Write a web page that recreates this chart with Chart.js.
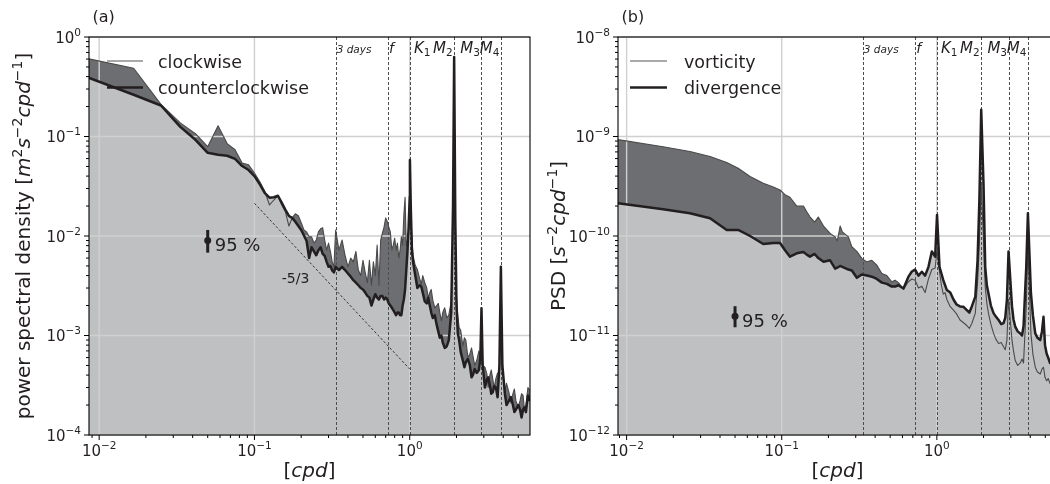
<!DOCTYPE html>
<html>
<head>
<meta charset="utf-8">
<script src="https://cdn.jsdelivr.net/npm/chart.js@4.4.1/dist/chart.umd.min.js"></script>
<style>
html, body { margin: 0; padding: 0; background: #fff; width: 1050px; height: 484px; overflow: hidden; }
#wrap { position: relative; width: 1050px; height: 484px; overflow: hidden; }
canvas { position: absolute; top: 0; }
#chartA { left: 0; }
#chartB { left: 540px; }
</style>
</head>
<body>
<div id="wrap">
  <canvas id="chartA" width="540" height="484"></canvas>
  <canvas id="chartB" width="530" height="484"></canvas>
</div>
<script>
// panel (a): rotary spectra
const freqA = [
  0.00833, 0.01667, 0.025, 0.0333, 0.04167, 0.05, 0.0583, 0.0667, 0.075, 0.0833,
  0.0917, 0.1, 0.1083, 0.1167, 0.125, 0.1333, 0.1417, 0.15, 0.1583, 0.1667,
  0.175, 0.1833, 0.1917, 0.2, 0.2083, 0.2167, 0.225, 0.2333, 0.2417, 0.25,
  0.2583, 0.2667, 0.275, 0.2833, 0.2917, 0.3, 0.3083, 0.3167, 0.325, 0.3333,
  0.35, 0.3667, 0.3833, 0.4, 0.4167, 0.4333, 0.45, 0.4667, 0.4833, 0.5,
  0.5167, 0.5333, 0.55, 0.5667, 0.5833, 0.6, 0.6167, 0.6333, 0.65, 0.6667,
  0.6833, 0.7, 0.7167, 0.7333, 0.75, 0.7667, 0.7833, 0.8, 0.8167, 0.8333,
  0.85, 0.8667, 0.8833, 0.9, 0.9167, 0.9333, 0.95, 0.9667, 0.9833, 1.0,
  1.0027, 1.0167, 1.0333, 1.05,
  1.0833, 1.12, 1.16, 1.187, 1.213, 1.25, 1.287, 1.315, 1.346, 1.376,
  1.407, 1.45, 1.493, 1.527, 1.562, 1.6, 1.632, 1.68, 1.733, 1.785,
  1.85, 1.9, 1.932, 1.965, 2.0, 2.04, 2.08, 2.13, 2.198, 2.25,
  2.297, 2.37, 2.44, 2.5, 2.55, 2.62, 2.7, 2.79, 2.85, 2.898,
  2.95, 3.05, 3.14, 3.2, 3.28, 3.35, 3.43, 3.5, 3.59, 3.68,
  3.78, 3.864, 3.95, 4.1, 4.2, 4.35, 4.48, 4.62, 4.72, 4.83,
  5.0, 5.13, 5.25, 5.37, 5.48, 5.6, 5.77, 5.94
];
const clockwise = [
  0.61, 0.485, 0.21, 0.137, 0.107, 0.079, 0.128, 0.0849, 0.0735, 0.054,
  0.052, 0.043, 0.035, 0.028, 0.0205, 0.023, 0.0254, 0.0205, 0.0175, 0.0126,
  0.0152, 0.0167, 0.016, 0.0136, 0.0115, 0.011, 0.0098, 0.0098, 0.0085, 0.0091,
  0.011, 0.0118, 0.0121, 0.0091, 0.0072, 0.0085, 0.007, 0.0055, 0.0049, 0.0115,
  0.0072, 0.0091, 0.0064, 0.0049, 0.006, 0.0055, 0.007, 0.00455, 0.004, 0.0057,
  0.0043, 0.0034, 0.0057, 0.0032, 0.0055, 0.004, 0.0081, 0.0032, 0.0091, 0.0107,
  0.0123, 0.0152, 0.014, 0.0123, 0.011, 0.0072, 0.0081, 0.0095, 0.0072, 0.0085,
  0.006, 0.0072, 0.0098, 0.0081, 0.0163, 0.0245, 0.008, 0.009, 0.011, 0.014,
  0.026, 0.0163, 0.0091, 0.0064,
  0.0051, 0.0046, 0.0037, 0.0033, 0.004, 0.0034, 0.003, 0.0024, 0.0027, 0.0029,
  0.00227, 0.0019, 0.002, 0.0021, 0.0017, 0.0014, 0.0017, 0.0019, 0.0015, 0.0016,
  0.0022, 0.012, 0.18, 0.01, 0.0025, 0.0016, 0.0012, 0.00113, 0.00078, 0.00095,
  0.0009, 0.0006, 0.00065, 0.00075, 0.00063, 0.0005, 0.00056, 0.0007, 0.0006, 0.00105,
  0.0005, 0.00048, 0.00041, 0.0003, 0.0004, 0.00045, 0.00036, 0.0003, 0.00037, 0.00042,
  0.0004, 0.0015, 0.00045, 0.00028, 0.00033, 0.00027, 0.00021, 0.00026, 0.00029, 0.00022,
  0.00019, 0.00022, 0.00026, 0.00025, 0.00018, 0.0002, 0.0003, 0.00028
];
const counterclockwise = [
  0.395, 0.263, 0.205, 0.125, 0.0927, 0.0685, 0.0655, 0.064, 0.0595, 0.0505,
  0.046, 0.040, 0.033, 0.027, 0.0243, 0.0245, 0.0254, 0.0215, 0.0183, 0.0159,
  0.0152, 0.0139, 0.0126, 0.0115, 0.0101, 0.0089, 0.006, 0.0077, 0.007, 0.0064,
  0.0072, 0.0077, 0.0066, 0.0063, 0.0055, 0.0049, 0.005, 0.0045, 0.0043, 0.0049,
  0.00455, 0.0049, 0.00455, 0.0042, 0.0039, 0.0036, 0.0034, 0.0032, 0.003, 0.0029,
  0.0027, 0.0025, 0.0024, 0.002, 0.0023, 0.0026, 0.0024, 0.0023, 0.0025, 0.0025,
  0.0023, 0.0024, 0.0023, 0.0021, 0.002, 0.0019, 0.0018, 0.0017, 0.0016, 0.0017,
  0.0017, 0.0016, 0.0016, 0.002, 0.0023, 0.0029, 0.0045, 0.007, 0.012, 0.025,
  0.058, 0.0183, 0.0072, 0.0055,
  0.0041, 0.003, 0.0032, 0.0031, 0.0027, 0.0022, 0.0021, 0.0024, 0.002, 0.0017,
  0.0015, 0.0016, 0.00127, 0.0011, 0.00095, 0.001, 0.00085, 0.00075, 0.00078, 0.0009,
  0.0017, 0.02, 0.63, 0.015, 0.002, 0.00105, 0.0009, 0.00068, 0.00056, 0.00048,
  0.00054, 0.00058, 0.0005, 0.00038, 0.0004, 0.00046, 0.00042, 0.00045, 0.0006, 0.00188,
  0.0005, 0.0003, 0.00036, 0.00038, 0.00032, 0.00026, 0.00027, 0.00031, 0.0003, 0.00024,
  0.0005, 0.0049, 0.0005, 0.00026, 0.0002, 0.00022, 0.00024, 0.0002, 0.00017, 0.00018,
  0.0002, 0.00018, 0.00015, 0.00018, 0.00019, 0.00017, 0.00025, 0.00022
];

// panel (b): vorticity / divergence spectra
const freqB = [
  0.0088, 0.0172, 0.0256, 0.0345, 0.0442, 0.0524, 0.0625, 0.076, 0.0883, 0.0975,
  0.105, 0.113, 0.125, 0.138, 0.145, 0.152, 0.163, 0.172, 0.186, 0.205,
  0.221, 0.228, 0.238, 0.246, 0.269, 0.283, 0.305, 0.328, 0.354, 0.381,
  0.41, 0.442, 0.476, 0.512, 0.538, 0.565, 0.609, 0.656, 0.69, 0.724,
  0.761, 0.8, 0.84, 0.883, 0.928, 0.975, 1.0027,
  1.04, 1.07, 1.10, 1.13, 1.16, 1.22, 1.28, 1.34, 1.41, 1.48,
  1.56, 1.62, 1.68, 1.77, 1.83, 1.88, 1.932, 1.998, 2.05, 2.1,
  2.15, 2.23, 2.32, 2.4, 2.5, 2.6, 2.69, 2.76, 2.83, 2.898,
  3.05, 3.12, 3.2, 3.32, 3.45, 3.54, 3.62, 3.77, 3.864, 4.04,
  4.16, 4.31, 4.45, 4.64, 4.76, 4.87, 4.98, 5.1, 5.22, 5.36,
  5.6, 5.95
];
const vorticity = [
  9.3e-10, 7.9e-10, 7.06e-10, 6.3e-10, 5.47e-10, 4.8e-10, 3.96e-10, 3.39e-10, 3.1e-10, 2.9e-10,
  2.6e-10, 2.45e-10, 2.0e-10, 2.0e-10, 1.75e-10, 1.56e-10, 1.38e-10, 1.55e-10, 1.26e-10, 1.06e-10,
  9.8e-11, 8.9e-11, 1.26e-10, 1.1e-10, 9.8e-11, 7.8e-11, 7.0e-11, 5.95e-11, 5.5e-11, 5.7e-11,
  5.1e-11, 4.2e-11, 4.0e-11, 3.47e-11, 3.6e-11, 3.4e-11, 2.92e-11, 3.47e-11, 3.7e-11, 3.6e-11,
  3.0e-11, 3.13e-11, 2.7e-11, 3.7e-11, 4.6e-11, 4.77e-11, 7.2e-11,
  4.37e-11, 3.2e-11, 2.6e-11, 2.7e-11, 2.3e-11, 1.95e-11, 1.8e-11, 1.65e-11, 1.43e-11, 1.35e-11,
  1.26e-11, 1.18e-11, 1.32e-11, 1.68e-11, 3.4e-11, 8.5e-11, 3.3e-10, 9.1e-11, 3.1e-11, 2.1e-11,
  1.68e-11, 1.3e-11, 1.05e-11, 9.2e-12, 8.3e-12, 8.5e-12, 7.7e-12, 7.2e-12, 9.0e-12, 2.3e-11,
  9.0e-12, 7.0e-12, 5.6e-12, 5.0e-12, 5.3e-12, 5.8e-12, 5.3e-12, 1.96e-11, 7.8e-11, 1.05e-11,
  6.5e-12, 4.8e-12, 4.3e-12, 4.1e-12, 4.6e-12, 4.8e-12, 3.8e-12, 3.5e-12, 3.7e-12, 3.3e-12,
  3.1e-12, 3.0e-12
];
const divergence = [
  2.13e-10, 1.86e-10, 1.69e-10, 1.51e-10, 1.15e-10, 1.15e-10, 1.0e-10, 8.3e-11, 8.5e-11, 8.5e-11,
  7.2e-11, 6.2e-11, 6.7e-11, 6.9e-11, 6.5e-11, 6.2e-11, 6.6e-11, 6.0e-11, 5.5e-11, 5.7e-11,
  4.7e-11, 4.8e-11, 5.0e-11, 4.9e-11, 4.6e-11, 4.5e-11, 3.8e-11, 4.1e-11, 4.0e-11, 3.9e-11,
  3.7e-11, 3.4e-11, 3.3e-11, 3.1e-11, 3.1e-11, 3.2e-11, 2.97e-11, 3.9e-11, 4.4e-11, 4.6e-11,
  4.0e-11, 4.37e-11, 4.0e-11, 4.9e-11, 7.0e-11, 6.2e-11, 1.63e-10,
  4.9e-11, 4.2e-11, 3.6e-11, 3.2e-11, 2.86e-11, 2.7e-11, 2.3e-11, 2.05e-11, 1.96e-11, 1.95e-11,
  1.8e-11, 1.7e-11, 1.96e-11, 2.46e-11, 5.7e-11, 2.3e-10, 1.86e-9, 3.4e-10, 4.9e-11, 3.2e-11,
  2.66e-11, 2.0e-11, 1.68e-11, 1.55e-11, 1.43e-11, 1.3e-11, 1.33e-11, 1.5e-11, 2.3e-11, 7.0e-11,
  1.96e-11, 1.45e-11, 1.23e-11, 1.1e-11, 1.05e-11, 1.0e-11, 1.23e-11, 4.9e-11, 1.69e-10, 2.66e-11,
  1.6e-11, 1.05e-11, 9.5e-12, 9.0e-12, 1.1e-11, 1.54e-11, 8.0e-12, 6.6e-12, 6.0e-12, 5.3e-12,
  5.6e-12, 5.0e-12
];

// marked frequencies (cpd): 3 days, f, K1, M2, M3, M4
const tideFreq = [1 / 3, 0.72, 1.0027, 1.932, 2.898, 3.864];
const tideName = ['3 days', 'f', 'K', 'M', 'M', 'M'];
const tideSub = ['', '', '1', '2', '3', '4'];

// -5/3 reference slope
const slopeFreq = [0.1, 1.0];
const slopePsd = [0.0213, 0.00046];

// 95 % confidence bar: upper, centre, lower
const ciFreq = 0.05;
const ciA = [0.0115, 0.0090, 0.0068];
const ciB = [1.97e-11, 1.56e-11, 1.21e-11];

const FONT = '"DejaVu Sans", sans-serif';
const INK = '#231f20';
const THIN = '#4a4a4a';
const LIGHT = '#bfc0c2';
const DARK = '#6d6e71';

const fontOf = p => (p[2] ? 'italic ' : '') + p[1] + 'px ' + FONT;

// draw a row of text pieces [text, size, italic, dy]
function rich(ctx, parts, x, y, align) {
  let total = 0;
  const w = parts.map(p => {
    ctx.font = fontOf(p);
    const m = ctx.measureText(p[0]).width;
    total += m;
    return m;
  });
  let cx = align === 'right' ? x - total : align === 'center' ? x - total / 2 : x;
  ctx.textAlign = 'left';
  ctx.textBaseline = 'alphabetic';
  parts.forEach((p, i) => {
    ctx.font = fontOf(p);
    ctx.fillText(p[0], cx, y + (p[3] || 0));
    cx += w[i];
  });
}

function pow10(ctx, e, x, y, align) {
  const ex = e < 0 ? '\u2212' + (-e) : String(e);
  rich(ctx, [['10', 15], [ex, 10.5, false, -7]], x, y, align);
}

function decades(lo, hi) {
  const out = [];
  for (let e = Math.ceil(Math.log10(lo) - 1e-9); e <= Math.floor(Math.log10(hi) + 1e-9); e++) out.push(e);
  return out;
}

function minors(lo, hi) {
  const out = [];
  for (let e = Math.floor(Math.log10(lo)); e <= Math.ceil(Math.log10(hi)); e++) {
    for (let k = 2; k <= 9; k++) {
      const v = k * Math.pow(10, e);
      if (v >= lo && v <= hi) out.push(v);
    }
  }
  return out;
}

function drawGrid(chart, o) {
  const { ctx, chartArea: a, scales: { x, y } } = chart;
  ctx.save();
  ctx.strokeStyle = '#d0d0d0';
  ctx.lineWidth = 1.4;
  ctx.beginPath();
  decades(o.xMin, o.xMax).forEach(e => {
    const p = x.getPixelForValue(Math.pow(10, e));
    ctx.moveTo(p, a.top); ctx.lineTo(p, a.bottom);
  });
  decades(o.yMin, o.yMax).forEach(e => {
    const p = y.getPixelForValue(Math.pow(10, e));
    ctx.moveTo(a.left, p); ctx.lineTo(a.right, p);
  });
  ctx.stroke();

  // tidal / inertial / 3-day markers
  ctx.strokeStyle = '#4d4d4d';
  ctx.lineWidth = 1;
  ctx.setLineDash([3, 2]);
  ctx.beginPath();
  tideFreq.forEach(f => {
    const p = Math.round(x.getPixelForValue(f)) + 0.5;
    ctx.moveTo(p, a.top); ctx.lineTo(p, a.bottom);
  });
  ctx.stroke();

  if (o.slope) {
    ctx.strokeStyle = '#222';
    ctx.lineWidth = 0.9;
    ctx.setLineDash([2.5, 2]);
    ctx.beginPath();
    ctx.moveTo(x.getPixelForValue(slopeFreq[0]), y.getPixelForValue(slopePsd[0]));
    ctx.lineTo(x.getPixelForValue(slopeFreq[1]), y.getPixelForValue(slopePsd[1]));
    ctx.stroke();
  }
  ctx.restore();
}

function drawDecor(chart, o) {
  const { ctx, chartArea: a, scales: { x, y } } = chart;
  ctx.save();
  ctx.fillStyle = INK;
  ctx.strokeStyle = '#000';

  // frame
  ctx.lineWidth = 1.1;
  ctx.strokeRect(a.left, a.top, a.right - a.left, a.bottom - a.top);

  // tick marks
  ctx.lineWidth = 1;
  ctx.beginPath();
  decades(o.xMin, o.xMax).forEach(e => {
    const p = x.getPixelForValue(Math.pow(10, e));
    ctx.moveTo(p, a.bottom); ctx.lineTo(p, a.bottom + 5);
  });
  minors(o.xMin, o.xMax).forEach(v => {
    const p = x.getPixelForValue(v);
    ctx.moveTo(p, a.bottom); ctx.lineTo(p, a.bottom + 3);
  });
  decades(o.yMin, o.yMax).forEach(e => {
    const p = y.getPixelForValue(Math.pow(10, e));
    ctx.moveTo(a.left, p); ctx.lineTo(a.left - 5, p);
  });
  minors(o.yMin, o.yMax).forEach(v => {
    const p = y.getPixelForValue(v);
    ctx.moveTo(a.left, p); ctx.lineTo(a.left - 3, p);
  });
  ctx.stroke();

  // tick labels
  decades(o.xMin, o.xMax).forEach(e => pow10(ctx, e, x.getPixelForValue(Math.pow(10, e)), a.bottom + 21, 'center'));
  decades(o.yMin, o.yMax).forEach(e => pow10(ctx, e, a.left - 8, y.getPixelForValue(Math.pow(10, e)) + 5.5, 'right'));

  // axis titles
  rich(ctx, [['[', 20], ['cpd', 20, true], [']', 20]], (a.left + a.right) / 2, 477, 'center');
  ctx.save();
  ctx.translate(o.titleX, (a.top + a.bottom) / 2);
  ctx.rotate(-Math.PI / 2);
  rich(ctx, o.yTitle, 0, 0, 'center');
  ctx.restore();

  // panel letter
  rich(ctx, [[o.letter, 16]], a.left + 3.5, 21.5, 'left');

  // marker labels
  tideFreq.forEach((f, i) => {
    const p = x.getPixelForValue(f);
    const base = a.top + 16;
    if (i === 0) rich(ctx, [[tideName[i], 10.5, true]], p + 1, base, 'left');
    else if (i === 1) rich(ctx, [[tideName[i], 14, true]], p + 1.5, base, 'left');
    else if (i === 2) rich(ctx, [[tideName[i], 15, true], [tideSub[i], 10.5, false, 3]], p + 4, base, 'left');
    else rich(ctx, [[tideName[i], 15, true], [tideSub[i], 10.5, false, 3]], p - 1.5, base, 'right');
  });

  // legend
  o.legend.forEach((l, i) => {
    const ly = a.top + 24 + i * 26.5;
    ctx.strokeStyle = l.color;
    ctx.lineWidth = l.width;
    ctx.beginPath();
    ctx.moveTo(a.left + o.legX[0], ly); ctx.lineTo(a.left + o.legX[1], ly);
    ctx.stroke();
    rich(ctx, [[l.label, 17.5]], a.left + o.legX[2], ly + 6.5, 'left');
  });

  // 95 % confidence marker
  const cx = x.getPixelForValue(ciFreq);
  ctx.strokeStyle = INK;
  ctx.lineWidth = 3;
  ctx.beginPath();
  ctx.moveTo(cx, y.getPixelForValue(o.ci[0]));
  ctx.lineTo(cx, y.getPixelForValue(o.ci[2]));
  ctx.stroke();
  const cy = y.getPixelForValue(o.ci[1]);
  ctx.beginPath();
  ctx.arc(cx, cy, 3.5, 0, Math.PI * 2);
  ctx.fill();
  rich(ctx, [['95 %', 18]], cx + 7, cy + 10.5, 'left');

  if (o.slope) {
    rich(ctx, [['-5/3', 14]], x.getPixelForValue(0.15), y.getPixelForValue(0.0034), 'left');
  }
  ctx.restore();
}

function makePanel(id, o) {
  const ctx = document.getElementById(id).getContext('2d');
  const pts = ys => o.freq.map((f, i) => ({ x: f, y: ys[i] }));
  const decor = {
    id: 'decor',
    beforeDatasetDraw(chart, args) {
      if (args.index === 1) drawGrid(chart, o);
    },
    afterDraw(chart) { drawDecor(chart, o); }
  };
  return new Chart(ctx, {
    type: 'line',
    data: {
      datasets: [
        { data: pts(o.lower), borderColor: INK, borderWidth: 2.5, fill: false },
        { data: pts(o.upper), borderColor: THIN, borderWidth: 1.1, fill: false },
        { data: pts(o.lower), borderColor: 'transparent', borderWidth: 0, backgroundColor: LIGHT, fill: 'start' },
        { data: pts(o.upper), borderColor: 'transparent', borderWidth: 0, backgroundColor: DARK, fill: 'start' }
      ]
    },
    options: {
      responsive: false,
      animation: false,
      devicePixelRatio: 1,
      events: [],
      layout: { padding: { top: 37, right: o.padRight, left: 0, bottom: 0 } },
      elements: {
        point: { radius: 0, hoverRadius: 0 },
        line: { tension: 0, borderJoinStyle: 'round' }
      },
      plugins: { legend: { display: false }, tooltip: { enabled: false } },
      scales: {
        x: {
          type: 'logarithmic', min: o.xMin, max: o.xMax,
          grid: { display: false }, border: { display: false }, ticks: { display: false },
          afterFit: s => { s.height = 49; }
        },
        y: {
          type: 'logarithmic', min: o.yMin, max: o.yMax,
          grid: { display: false }, border: { display: false }, ticks: { display: false },
          afterFit: s => { s.width = o.axisWidth; }
        }
      }
    },
    plugins: [decor]
  });
}

makePanel('chartA', {
  freq: freqA, upper: clockwise, lower: counterclockwise,
  xMin: 0.0086, xMax: 5.95, yMin: 1e-4, yMax: 1,
  axisWidth: 89, padRight: 10, titleX: 29.5, letter: '(a)',
  yTitle: [['power spectral density [', 20], ['m', 20, true], ['2', 14, false, -8], ['s', 20, true],
    ['\u22122', 14, false, -8], ['cpd', 20, true], ['\u22121', 14, false, -8], [']', 20]],
  legend: [
    { label: 'clockwise', color: '#8c8c8c', width: 1.5 },
    { label: 'counterclockwise', color: INK, width: 2.5 }
  ],
  legX: [18, 54, 69],
  ci: ciA, slope: true
});

makePanel('chartB', {
  freq: freqB, upper: vorticity, lower: divergence,
  xMin: 0.0088, xMax: 5.95, yMin: 1e-12, yMax: 1e-8,
  axisWidth: 78, padRight: 13, titleX: 25, letter: '(b)',
  yTitle: [['PSD [', 20], ['s', 20, true], ['\u22122', 14, false, -8], ['cpd', 20, true],
    ['\u22121', 14, false, -8], [']', 20]],
  legend: [
    { label: 'vorticity', color: '#8c8c8c', width: 1.5 },
    { label: 'divergence', color: INK, width: 2.5 }
  ],
  legX: [12, 49, 66],
  ci: ciB, slope: false
});
</script>
</body>
</html>
